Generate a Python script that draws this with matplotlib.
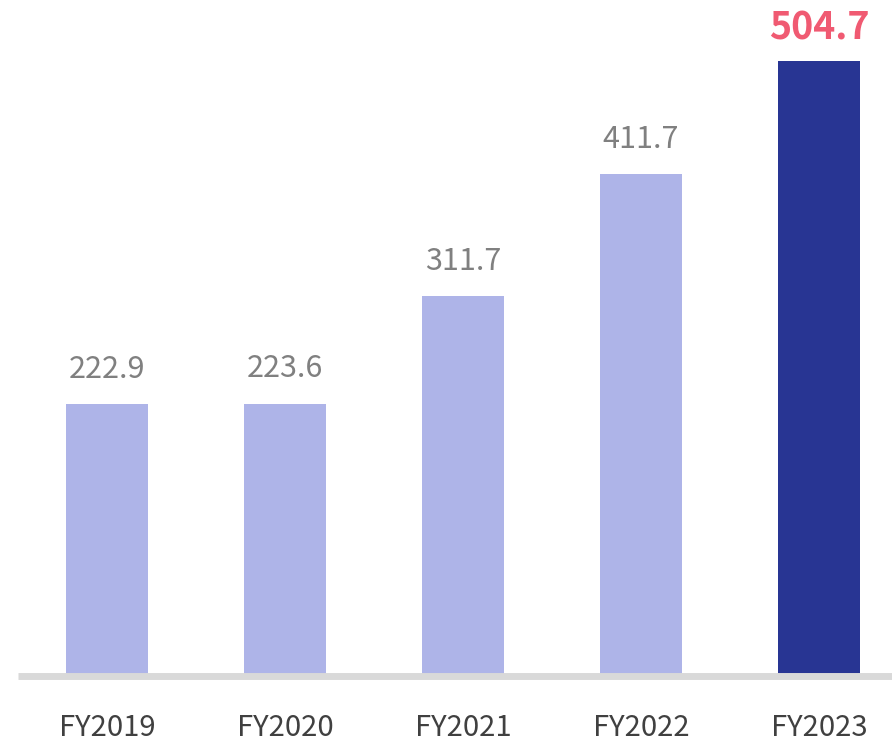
import matplotlib.pyplot as plt
import numpy as np

plt.rcParams['font.family'] = ['Noto Sans CJK JP', 'DejaVu Sans']

# data
years = ["FY2019", "FY2020", "FY2021", "FY2022", "FY2023"]
values = [222.9, 223.6, 311.7, 411.7, 504.7]
labels = ["222.9", "223.6", "311.7", "411.7", "504.7"]

light = "#aeb4e8"
dark = "#283593"
colors = [light, light, light, light, dark]

fig = plt.figure(figsize=(8.92, 7.44), dpi=100)
# axes from pixel x=18 to right edge, baseline at y=676
ax = fig.add_axes([18 / 892, (744 - 676) / 744, 1 - 18 / 892, 676 / 744])

x = np.arange(len(years))
ax.bar(x, values, width=0.46, color=colors, zorder=2)

ax.set_xlim(-0.5, (892 - 107) / 178)
ax.set_ylim(0, 676 / 1.2186)

# value labels
for i, (v, lab) in enumerate(zip(values, labels)):
    if i == len(values) - 1:
        ax.annotate(lab, (i, v), xytext=(0, 10), textcoords="offset points",
                    ha="center", va="bottom", fontsize=27, fontweight="bold",
                    color="#f05a72")
    else:
        ax.annotate(lab, (i, v), xytext=(0, 14), textcoords="offset points",
                    ha="center", va="bottom", fontsize=22, color="#808080")

# baseline
ax.axhline(0, color="#d9d9d9", linewidth=5, zorder=3, clip_on=False,
           solid_capstyle="butt")

for s in ax.spines.values():
    s.set_visible(False)
ax.set_yticks([])
ax.set_xticks(x)
ax.set_xticklabels(years, fontsize=21, color="#404040")
ax.tick_params(axis="x", length=0, pad=27)

fig.savefig("out.png", dpi=100)
